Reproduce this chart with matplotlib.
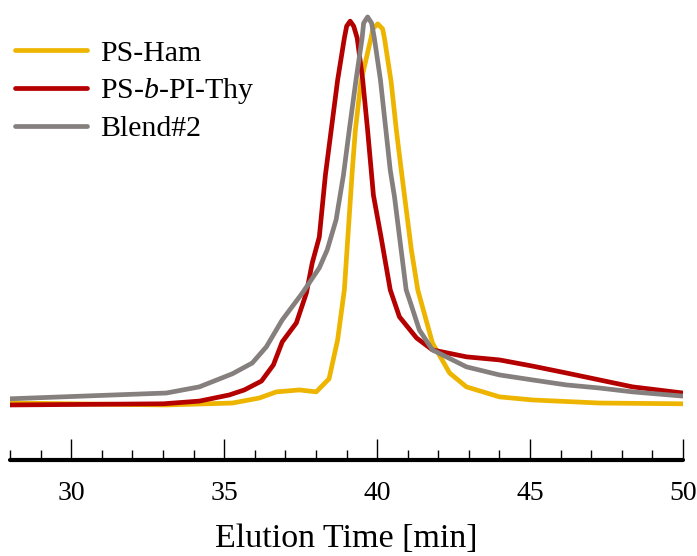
import numpy as np
import matplotlib.pyplot as plt
from matplotlib.ticker import MultipleLocator

plt.rcParams['font.family'] = 'Liberation Serif'
plt.rcParams['mathtext.fontset'] = 'custom'
plt.rcParams['mathtext.rm'] = 'Liberation Serif'
plt.rcParams['mathtext.it'] = 'Liberation Serif:italic'

# GPC traces, normalised RI signal vs elution time (min)
t_ham = [28.0, 33.11, 35.27, 36.15, 36.71, 37.46, 38.01, 38.43, 38.71, 38.93,
         39.19, 39.29, 39.47, 39.80, 39.86, 40.02, 40.18, 40.24, 40.46, 40.63,
         40.79, 41.12, 41.33, 41.81, 42.37, 42.92, 44.0, 45.08, 47.27, 50.0]
i_ham = [0.005, 0.0, 0.005, 0.018, 0.034, 0.039, 0.034, 0.068, 0.169, 0.299,
         0.610, 0.714, 0.839, 0.953, 0.977, 0.990, 0.977, 0.953, 0.839, 0.714,
         0.610, 0.403, 0.299, 0.161, 0.083, 0.047, 0.021, 0.013, 0.005, 0.003]

t_thy = [28.0, 33.01, 34.19, 35.17, 35.66, 36.22, 36.61, 36.90, 37.36, 37.69,
         37.88, 38.11, 38.31, 38.71, 38.93, 39.005, 39.12, 39.235, 39.35, 39.53,
         39.69, 39.88, 40.13, 40.43, 40.73, 41.29, 41.81, 42.92, 44.0, 45.08,
         46.19, 47.27, 48.35, 50.0]
i_thy = [0.0, 0.003, 0.010, 0.026, 0.039, 0.062, 0.104, 0.164, 0.213, 0.291,
         0.369, 0.436, 0.597, 0.844, 0.953, 0.984, 0.997, 0.984, 0.953, 0.844,
         0.714, 0.545, 0.436, 0.299, 0.229, 0.174, 0.143, 0.125, 0.117, 0.101,
         0.083, 0.065, 0.047, 0.031]

t_blend = [28.0, 33.11, 34.19, 35.27, 35.92, 36.38, 36.90, 37.56, 38.11, 38.37,
           38.66, 38.90, 39.09, 39.31, 39.51, 39.56, 39.69, 39.82, 39.91, 40.11,
           40.43, 40.57, 40.95, 41.06, 41.38, 41.81, 42.92, 44.0, 45.08, 46.19,
           47.27, 48.35, 50.0]
i_blend = [0.016, 0.031, 0.047, 0.081, 0.109, 0.151, 0.221, 0.291, 0.356, 0.403,
           0.481, 0.597, 0.714, 0.844, 0.953, 0.992, 1.008, 0.992, 0.953, 0.844,
           0.610, 0.540, 0.299, 0.273, 0.195, 0.143, 0.099, 0.078, 0.065, 0.052,
           0.044, 0.034, 0.023]

labels = ['PS-Ham', 'PS-$b$-PI-Thy', 'Blend#2']
colors = ['#EDB500', '#B50000', '#857F7E']

fig = plt.figure(figsize=(6.97, 5.56), dpi=100)
ax = fig.add_axes([10 / 697, 96 / 556, 673 / 697, 460 / 556])

for t, i, lab, c in zip([t_ham, t_thy, t_blend], [i_ham, i_thy, i_blend], labels, colors):
    ax.plot(t, i, color=c, lw=3.4, label=lab, solid_capstyle='round', solid_joinstyle='round')

ax.set_xlim(28, 50)
ax.set_ylim(-0.143, 1.052)

for s in ['left', 'right', 'top']:
    ax.spines[s].set_visible(False)
ax.spines['bottom'].set_linewidth(3)
ax.spines['bottom'].set_capstyle('round')
ax.set_yticks([])

ax.xaxis.set_major_locator(MultipleLocator(5))
ax.xaxis.set_minor_locator(MultipleLocator(1))
ax.tick_params(axis='x', which='major', direction='in', length=15, width=1, pad=15,
               labelsize=20)
ax.tick_params(axis='x', which='minor', direction='in', length=7.5, width=1)

ax.set_xlabel('Elution Time [min]', fontsize=24.5, labelpad=13)

ax.legend(loc='upper left', bbox_to_anchor=(15 / 697, 1 - 40 / 556),
          bbox_transform=fig.transFigure, frameon=False, fontsize=21.5,
          handlelength=2.4, handletextpad=0.45, labelspacing=0.31, borderpad=0,
          borderaxespad=0)

fig.savefig('out.png', dpi=100)
